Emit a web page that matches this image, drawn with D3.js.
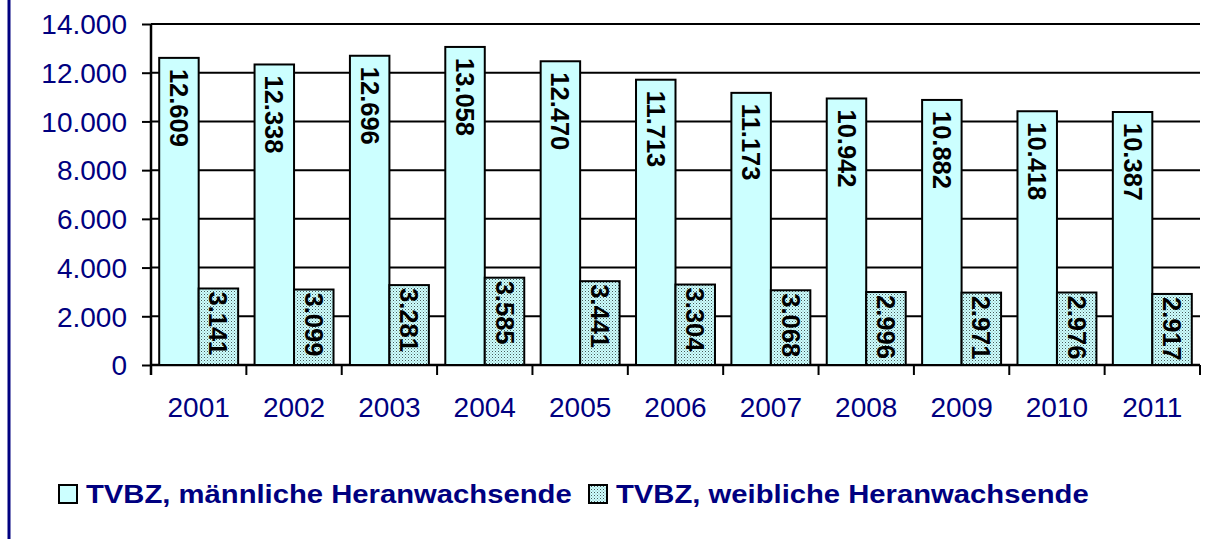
<!DOCTYPE html>
<html><head><meta charset="utf-8">
<script src="https://cdn.jsdelivr.net/npm/d3@7"></script>
<style>body{margin:0;background:#fff}svg{display:block}</style>
</head><body>
<script>
const years = ["2001","2002","2003","2004","2005","2006","2007","2008","2009","2010","2011"];
const seriesNames = ["TVBZ, männliche Heranwachsende","TVBZ, weibliche Heranwachsende"];
const male = [12609,12338,12696,13058,12470,11713,11173,10942,10882,10418,10387];
const female = [3141,3099,3281,3585,3441,3304,3068,2996,2971,2976,2917];
const yTicks = [0,2000,4000,6000,8000,10000,12000,14000];

const W = 1214, H = 539;
const navy = "#000080";
const loc = d3.formatLocale({decimal:",", thousands:".", grouping:[3], currency:["","€"]});
const fmt = loc.format(",d");

const svg = d3.select("body").append("svg").attr("width", W).attr("height", H);
const defs = svg.append("defs");
const pat = defs.append("pattern").attr("id","dots").attr("patternUnits","userSpaceOnUse")
  .attr("width",3).attr("height",3);
pat.append("rect").attr("width",3).attr("height",3).attr("fill","#ccffff");
pat.append("rect").attr("width",1).attr("height",1).attr("fill","#4a5a5a");
pat.append("rect").attr("x",1.5).attr("y",1.5).attr("width",1).attr("height",1).attr("fill","#8aa0a0");

// left border line
svg.append("line").attr("x1",9).attr("x2",9).attr("y1",0).attr("y2",H)
  .attr("stroke",navy).attr("stroke-width",3);

const x0 = 151, x1 = 1200, yTop = 24, yBot = 365;
const x = d3.scaleBand().domain(years).range([x0,x1]).paddingInner(0.172).paddingOuter(0.086);
const xs = d3.scaleBand().domain([0,1]).range([0,x.bandwidth()]);
const y = d3.scaleLinear().domain([0,14000]).range([yBot,yTop]);

// gridlines
svg.append("g").selectAll("line").data(yTicks.filter(d=>d>0)).join("line")
  .attr("x1",x0).attr("x2",x1).attr("y1",d=>y(d)).attr("y2",d=>y(d))
  .attr("stroke","#000").attr("stroke-width",2);

// y axis
const yAxis = svg.append("g").attr("transform",`translate(${x0},0)`)
  .call(d3.axisLeft(y).tickValues(yTicks).tickFormat(fmt).tickSize(9).tickPadding(15));
yAxis.select(".domain").attr("stroke","#000").attr("stroke-width",2.5).attr("d",`M0,${yTop}V${yBot+10}`);
yAxis.selectAll(".tick line").attr("stroke","#000").attr("stroke-width",2);
yAxis.selectAll(".tick text").attr("fill",navy).style("font-family","Liberation Sans, Arial, sans-serif")
  .style("font-size","28px").attr("dy","0.35em");

// x axis
const xTickPos = d3.range(years.length+1).map(i => x0 + i*x.step());
svg.append("line").attr("x1",x0).attr("x2",x1).attr("y1",yBot).attr("y2",yBot)
  .attr("stroke","#000").attr("stroke-width",2.5);
svg.append("g").selectAll("line").data(xTickPos).join("line")
  .attr("x1",d=>d).attr("x2",d=>d).attr("y1",yBot).attr("y2",yBot+10)
  .attr("stroke","#000").attr("stroke-width",2);
svg.append("g").selectAll("text").data(years).join("text")
  .attr("x",d=>x(d)+x.bandwidth()/2).attr("y",417).attr("text-anchor","middle")
  .attr("fill",navy).style("font-family","Liberation Sans, Arial, sans-serif").style("font-size","28px")
  .text(d=>d);

// bars
const series = [male, female];
const fills = ["#ccffff","url(#dots)"];
const labelOff = [11, 3];
series.forEach((vals, si) => {
  const g = svg.append("g");
  g.selectAll("rect").data(vals).join("rect")
    .attr("x",(d,i)=>x(years[i])+xs(si)).attr("width",xs.bandwidth())
    .attr("y",d=>y(d)).attr("height",d=>yBot-y(d))
    .attr("fill",fills[si]).attr("stroke","#000").attr("stroke-width",2);
  g.selectAll("text").data(vals).join("text")
    .attr("transform",(d,i)=>`translate(${x(years[i])+xs(si)+xs.bandwidth()/2},${y(d)+labelOff[si]}) rotate(90)`)
    .attr("dy","0.35em").attr("text-anchor","start")
    .style("font-family","Liberation Sans, Arial, sans-serif").style("font-weight","bold").style("font-size","25.5px")
    .attr("fill","#000").text(d=>fmt(d));
});

// legend
const leg = svg.append("g");
const legX = [58, 588];
seriesNames.forEach((name, i) => {
  leg.append("rect").attr("x",legX[i]+1).attr("y",485).attr("width",18).attr("height",18)
    .attr("fill",fills[i]).attr("stroke","#000").attr("stroke-width",2);
  leg.append("text").attr("transform",`translate(${legX[i]+28},503) scale(1.17,1)`)
    .attr("fill",navy).style("font-family","Liberation Sans, Arial, sans-serif").style("font-weight","bold")
    .style("font-size","25px").text(name);
});
</script>
</body></html>
